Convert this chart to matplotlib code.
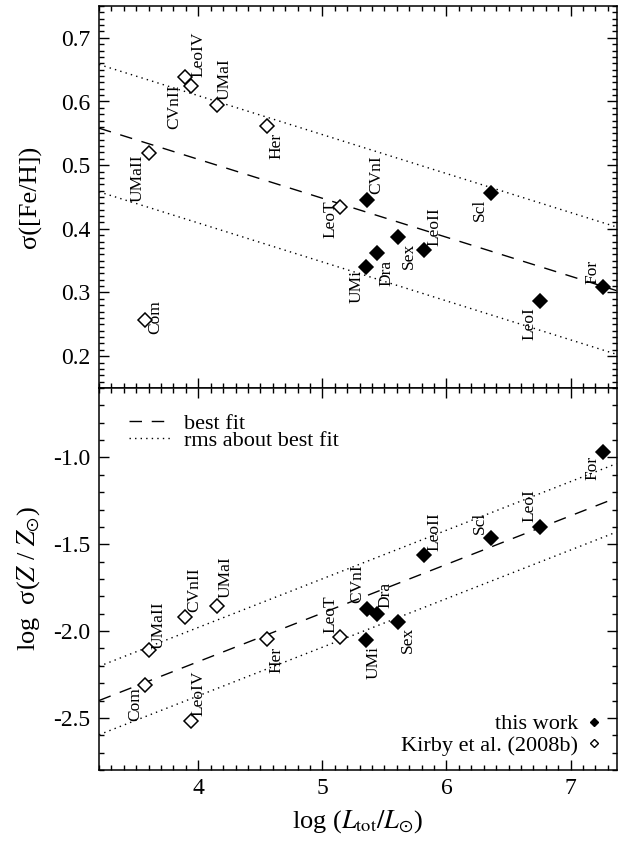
import numpy as np
import matplotlib
matplotlib.use('Agg')
import matplotlib.pyplot as plt
from matplotlib.lines import Line2D
from matplotlib.ticker import MultipleLocator

plt.rcParams['font.family'] = ['Liberation Serif', 'DejaVu Serif']
plt.rcParams['mathtext.fontset'] = 'stix'

# dwarf galaxies: log luminosity, spread in [Fe/H], log spread in Z
names = ['Com', 'UMaII', 'CVnII', 'LeoIV', 'UMaI', 'Her', 'LeoT', 'UMi',
         'CVnI', 'Dra', 'Sex', 'LeoII', 'Scl', 'LeoI', 'For']
log_l = [3.57, 3.60, 3.89, 3.94, 4.15, 4.55, 5.14, 5.35,
         5.36, 5.44, 5.61, 5.82, 6.36, 6.75, 7.26]
sig_feh = [0.257, 0.519, 0.639, 0.625, 0.595, 0.562, 0.434, 0.340,
           0.445, 0.362, 0.387, 0.366, 0.457, 0.287, 0.308]
log_sig_z = [-2.31, -2.11, -1.92, -2.515, -1.853, -2.045, -2.033, -2.054,
             -1.872, -1.90, -1.949, -1.564, -1.466, -1.40, -0.97]
this_work = [False, False, False, False, False, False, False, True,
             True, True, True, True, True, True, True]

# best fit lines (intercept, slope, rms)
fit_feh = (0.754, -0.0612, 0.100)
fit_z = (-3.296, 0.280, 0.197)

# label offsets in pixels (dx, dy up, vertical alignment)
off_top = {'Com': (10, 3, 'center'), 'UMaII': (-11, -1, 'top'), 'CVnII': (-10, -8, 'top'),
           'LeoIV': (8, 9, 'bottom'), 'UMaI': (8, 5, 'bottom'), 'Her': (10, -7, 'top'),
           'LeoT': (-9, 7, 'top'), 'UMi': (-9, -3, 'top'), 'CVnI': (9, 6, 'bottom'),
           'Dra': (9, -7, 'top'), 'Sex': (11, -6, 'top'), 'LeoII': (10, 4, 'bottom'),
           'Scl': (-11, -6, 'top'), 'LeoI': (-10, -6, 'top'), 'For': (-10, 3, 'bottom')}
off_bot = {'Com': (-10, -2, 'top'), 'UMaII': (10, 1, 'bottom'), 'CVnII': (10, 5, 'bottom'),
           'LeoIV': (8, 5, 'bottom'), 'UMaI': (9, 8, 'bottom'), 'Her': (10, -8, 'top'),
           'LeoT': (-9, 4, 'bottom'), 'UMi': (8, -6, 'top'), 'CVnI': (-10, 6, 'bottom'),
           'Dra': (8, 6, 'bottom'), 'Sex': (10, -5, 'top'), 'LeoII': (10, 4, 'bottom'),
           'Scl': (-11, 4, 'bottom'), 'LeoI': (-10, 5, 'bottom'), 'For': (-10, -4, 'top')}

XLIM = (3.2, 7.37)
PX = 0.72  # points per pixel at dpi 100


def style_axis(ax, ymin_step):
    ax.set_xlim(*XLIM)
    ax.xaxis.set_major_locator(MultipleLocator(1))
    ax.xaxis.set_minor_locator(MultipleLocator(0.1))
    ax.yaxis.set_minor_locator(MultipleLocator(ymin_step))
    ax.tick_params(which='both', direction='in', top=True, right=True,
                   labelsize=17, width=1.0)
    ax.tick_params(which='major', length=7.5, pad=6)
    ax.tick_params(which='minor', length=3.8)
    for s in ax.spines.values():
        s.set_linewidth(1.1)


def draw_panel(ax, yvals, fit, offsets):
    xs = np.array(XLIM)
    a, b, rms = fit
    ax.plot(xs, a + b * xs, color='black', lw=1.0, ls=(0, (9, 7)))
    ax.plot(xs, a + b * xs + rms, color='black', lw=1.0, ls=(0, (1, 3)))
    ax.plot(xs, a + b * xs - rms, color='black', lw=1.0, ls=(0, (1, 3)))
    for n, x, y, tw in zip(names, log_l, yvals, this_work):
        ax.plot(x, y, marker='D', ms=7.6, mec='black', mew=1.1,
                mfc='black' if tw else 'white', ls='none', zorder=5)
        dx, dy, va = offsets[n]
        ax.annotate(n, (x, y), xytext=(dx * PX, dy * PX), textcoords='offset points',
                    rotation=90, ha='center', va=va, fontsize=12.5, zorder=6)


fig = plt.figure(figsize=(6.21, 8.41), dpi=100)
left, right = 99 / 621, 616.5 / 621
y_top, y_mid, y_bot = 1 - 6 / 841, 1 - 388 / 841, 1 - 770 / 841
ax1 = fig.add_axes([left, y_mid, right - left, y_top - y_mid])
ax2 = fig.add_axes([left, y_bot, right - left, y_mid - y_bot])

draw_panel(ax1, sig_feh, fit_feh, off_top)
style_axis(ax1, 0.01)
ax1.set_ylim(0.15, 0.75)
ax1.yaxis.set_major_locator(MultipleLocator(0.1))
ax1.tick_params(labelbottom=False)
ax1.set_ylabel('σ([Fe/H])', fontsize=19, labelpad=14)

draw_panel(ax2, log_sig_z, fit_z, off_bot)
style_axis(ax2, 0.1)
ax2.set_ylim(-2.8, -0.6)
ax2.yaxis.set_major_locator(MultipleLocator(0.5))
ax2.yaxis.set_major_formatter(matplotlib.ticker.FormatStrFormatter('%.1f'))
ax2.set_ylabel(r'log  σ($Z$ / $Z_{\odot}$)', fontsize=19, labelpad=8)
ax2.set_xlabel(r'log ($L_{\rm tot}/L_{\odot}$)', fontsize=19, labelpad=6)

line_handles = [Line2D([], [], color='black', lw=1.0, ls=(0, (9, 7))),
                Line2D([], [], color='black', lw=1.0, ls=(0, (1, 3)))]
leg1 = ax2.legend(line_handles, ['best fit', 'rms about best fit'], loc='upper left',
                  frameon=False, fontsize=16, handlelength=1.95, handletextpad=0.55,
                  labelspacing=-0.15, borderaxespad=0.3, bbox_to_anchor=(0.027, 0.974))
ax2.add_artist(leg1)

mark_handles = [Line2D([], [], marker='D', ms=4.2, mfc='black', mec='black', ls='none'),
                Line2D([], [], marker='D', ms=4.2, mfc='white', mec='black', mew=1.0, ls='none')]
ax2.legend(mark_handles, ['this work', 'Kirby et al. (2008b)'], loc='lower right',
           frameon=False, fontsize=16, markerfirst=False, handlelength=0.8,
           handletextpad=0.3, labelspacing=0.05, borderaxespad=0.23)

fig.savefig('out.png', dpi=100)
